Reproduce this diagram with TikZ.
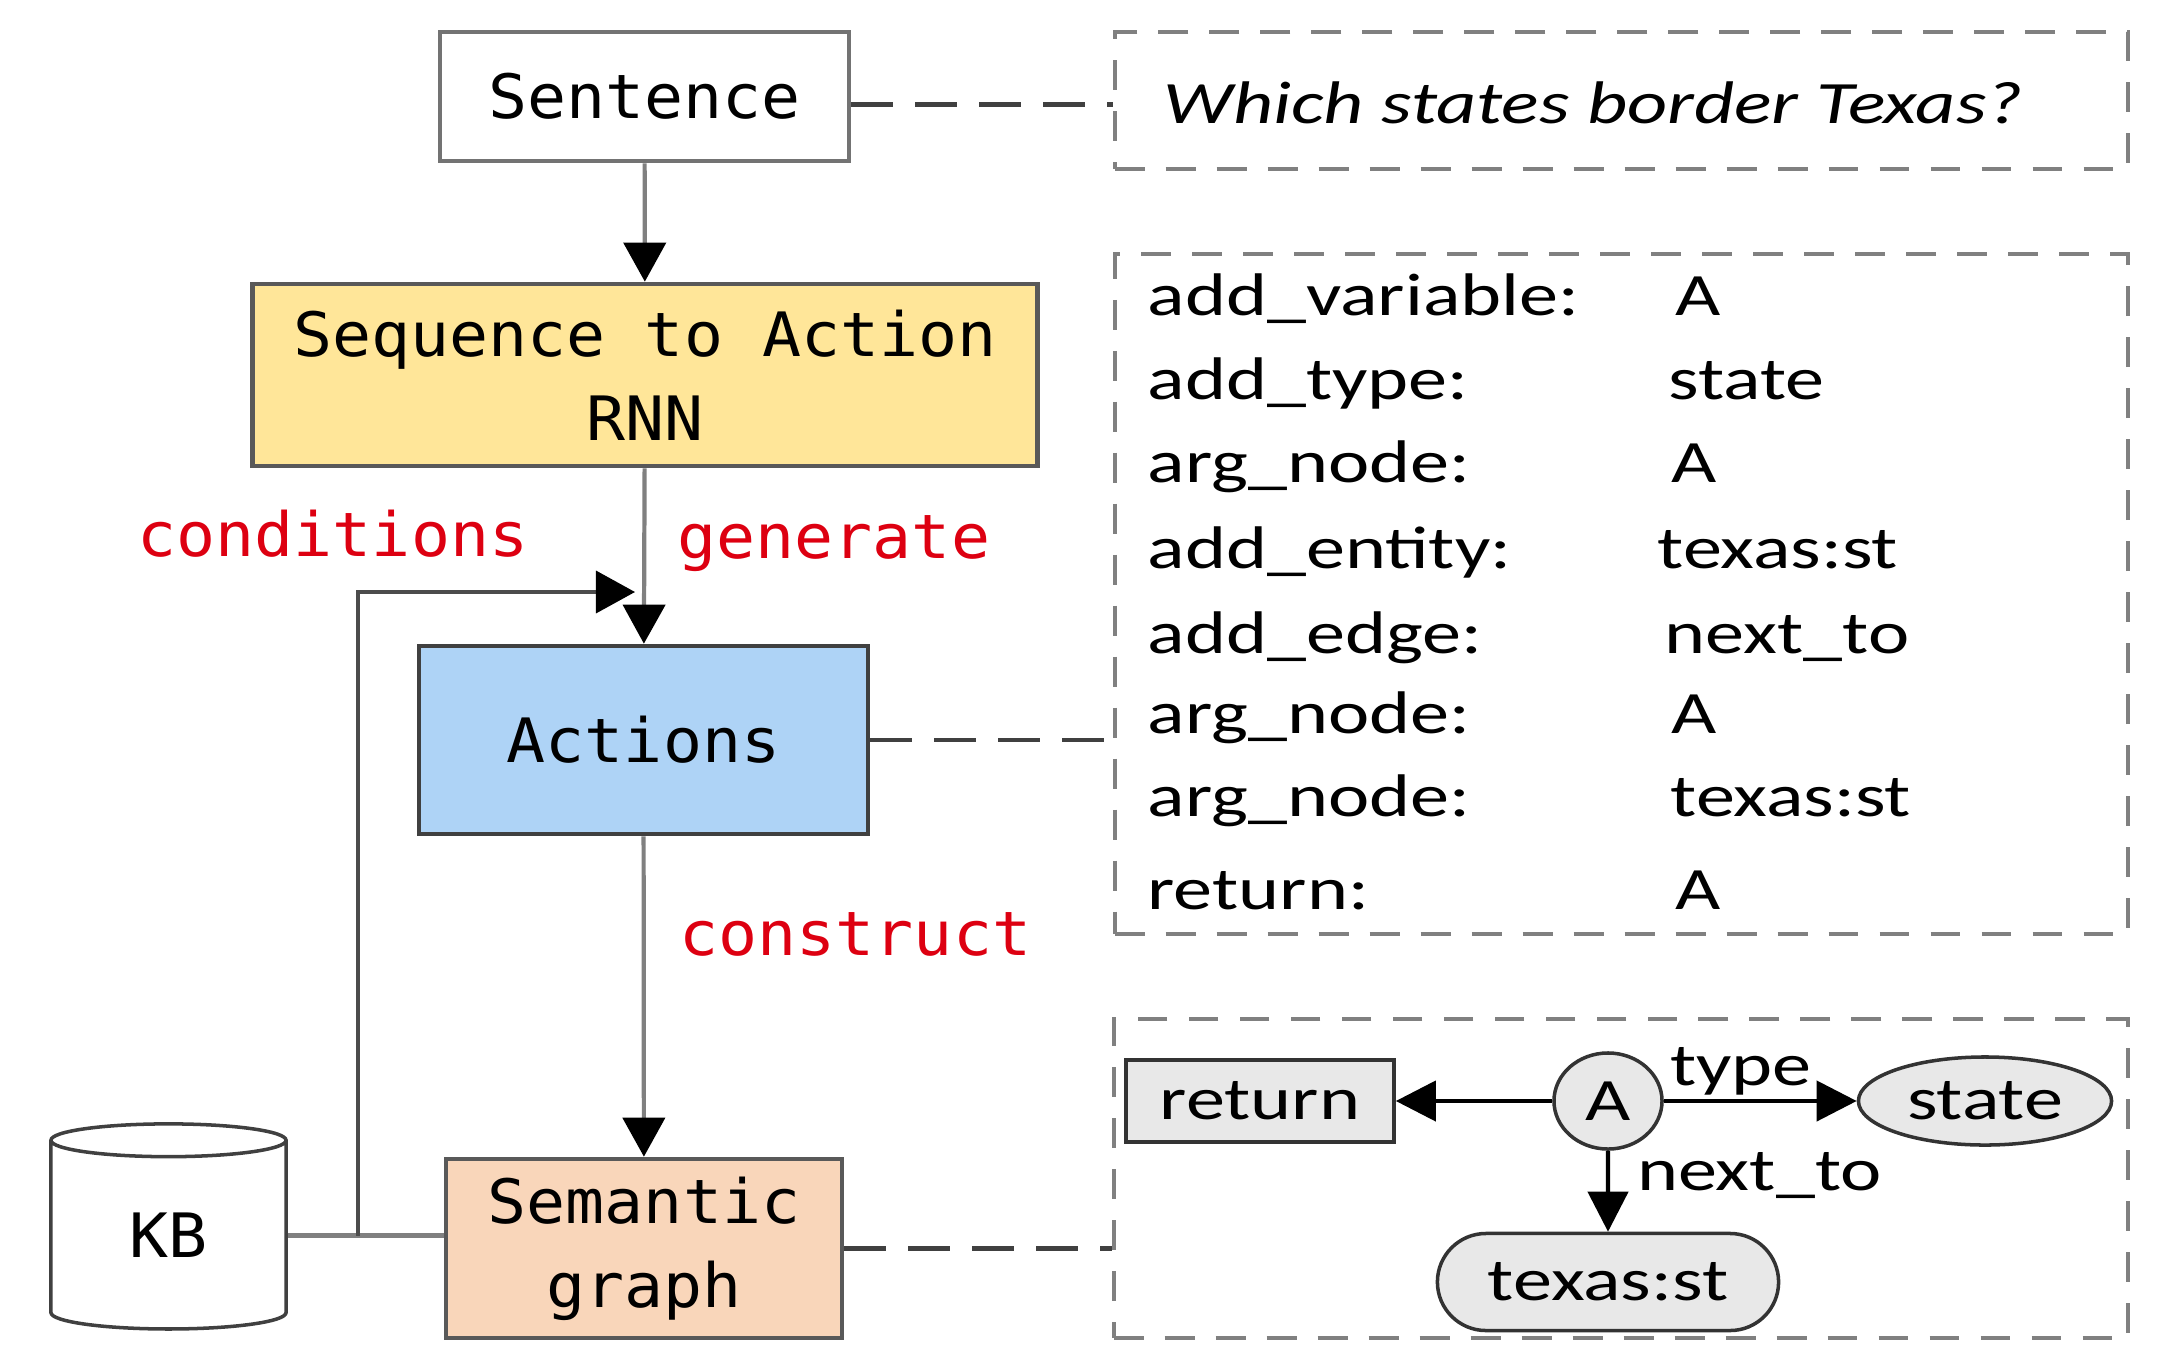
\documentclass[tikz,border=0pt]{standalone}
\usepackage{fontspec}
\usetikzlibrary{arrows.meta,shapes.geometric,shapes.misc,positioning}
\newfontfamily\boxfont[FakeStretch=1.06]{DejaVu Sans Mono}
\newfontfamily\listfont[FakeStretch=1.3]{Carlito}
\definecolor{seqfill}{HTML}{FFE699}
\definecolor{actfill}{HTML}{AED3F6}
\definecolor{semfill}{HTML}{F9D6BA}
\definecolor{lblred}{HTML}{DD0011}
\definecolor{nodegray}{HTML}{E8E8E8}
\tikzset{
  box/.style={draw=black!65, line width=1.3pt, align=center, inner sep=0pt,
    font=\boxfont\fontsize{17.4}{23.9}\selectfont},
  flow/.style={draw=black!50, line width=1.2pt, -{Triangle[length=0.39cm,width=0.42cm,color=black]}},
  cond/.style={draw=black!70, line width=1pt, -{Triangle[length=0.39cm,width=0.42cm,color=black]}},
  link/.style={draw=black!75, line width=1.2pt, dash pattern=on 11.7pt off 6.5pt},
  dbox/.style={draw=black!50, line width=1.1pt, dash pattern=on 8.5pt off 6pt, inner sep=0pt},
  lbl/.style={text=lblred, inner sep=0pt, anchor=base west,
    font=\boxfont\fontsize{17.4}{23.9}\selectfont},
  item/.style={inner sep=0pt, anchor=base west, font=\listfont\fontsize{17.1}{20}\selectfont},
  gnode/.style={draw=black!80, fill=nodegray, line width=1pt, inner sep=0pt,
    font=\listfont\fontsize{17.1}{20}\selectfont},
  garrow/.style={line width=1.2pt, -{Triangle[length=0.4cm,width=0.4cm]}},
}
\begin{document}
\begin{tikzpicture}[x=0.01cm, y=-0.01cm]
  \useasboundingbox (0,0) rectangle (2157,1351);
  % pipeline
  \node[box, draw=black!55, minimum width=4.09cm, minimum height=1.29cm] (sent) at (644.5,96.5) {Sentence};
  \node[box, fill=seqfill, minimum width=7.84cm, minimum height=1.82cm] (seq) at (645,375) {Sequence to Action\\RNN};
  \node[box, fill=actfill, draw=black!75, minimum width=4.49cm, minimum height=1.88cm] (act) at (643.5,740) {Actions};
  \node[box, fill=semfill, minimum width=3.96cm, minimum height=1.79cm] (sem) at (644,1248.5) {Semantic\\graph};
  \node[box, cylinder, shape border rotate=90, aspect=0.42, fill=white, draw=black!75, line width=1pt,
    minimum width=2.35cm, minimum height=2.05cm] (kb) at (168.5,1235.5) {KB};
  \node[lbl] (cond) at (137,556) {conditions};
  \node[lbl] (gen) at (677,558) {generate};
  \node[lbl] (cons) at (679,955) {construct};
  \draw[flow] (sent) -- (seq);
  \draw[flow] (seq) -- (act);
  \draw[flow] (act) -- (sem);
  \draw[draw=black!50, line width=1.2pt] (kb.east) -- (kb.east -| sem.west) coordinate[pos=0.45] (cj);
  \coordinate (ct) at (635,592);
  \draw[cond] (cj) |- (ct);
  % sentence
  \node[dbox, minimum width=10.13cm, minimum height=1.37cm] (q) at (1621.5,100.5) {};
  \node[item, font=\listfont\itshape\fontsize{17.1}{20}\selectfont] (qtext) at (1163,123) {Which states border Texas?};
  % actions
  \node[dbox, minimum width=10.13cm, minimum height=6.8cm] (list) at (1621.5,594) {};
  \node[item] (l1) at (1147,315) {add\_variable:};
  \node[item] (v1) at (1675,315) {A};
  \node[item] (l2) at (1147,399) {add\_type:};
  \node[item] (v2) at (1668,399) {state};
  \node[item] (l3) at (1147,482) {arg\_node:};
  \node[item] (v3) at (1671,482) {A};
  \node[item] (l4) at (1147,568) {add\_entity:};
  \node[item] (v4) at (1657,568) {texas:st};
  \node[item] (l5) at (1147,653) {add\_edge:};
  \node[item] (v5) at (1664,653) {next\_to};
  \node[item] (l6) at (1147,733) {arg\_node:};
  \node[item] (v6) at (1671,733) {A};
  \node[item] (l7) at (1147,816) {arg\_node:};
  \node[item] (v7) at (1670,816) {texas:st};
  \node[item] (l8) at (1147,909) {return:};
  \node[item] (v8) at (1675,909) {A};
  % graph
  \node[dbox, minimum width=10.14cm, minimum height=3.19cm] (graph) at (1621,1178.5) {};
  \node[gnode, minimum width=2.68cm, minimum height=0.82cm] (ret) at (1260,1101) {return};
  \node[gnode, ellipse, minimum width=1.08cm, minimum height=0.96cm] (a) at (1608,1101) {A};
  \node[gnode, ellipse, minimum width=2.53cm, minimum height=0.88cm] (st) at (1985,1101) {state};
  \node[gnode, rounded rectangle, minimum width=3.41cm, minimum height=0.97cm] (tx) at (1608,1282) {texas:st};
  \draw[garrow] (a) -- (ret);
  \draw[garrow] (a) -- node[item, anchor=south, pos=0.4, inner sep=1pt] (typ) {type} (st);
  \draw[garrow] (a) -- node[item, anchor=west, pos=0.3, xshift=0.27cm] (nt) {next\_to} (tx);
  % dashed links
  \draw[link] ([yshift=-0.08cm]sent.east) -- ([yshift=-0.08cm]sent.east -| q.west);
  \draw[link] (act.east) -- (act.east -| list.west);
  \draw[link] (sem.east) -- (sem.east -| graph.west);
\end{tikzpicture}
\end{document}
